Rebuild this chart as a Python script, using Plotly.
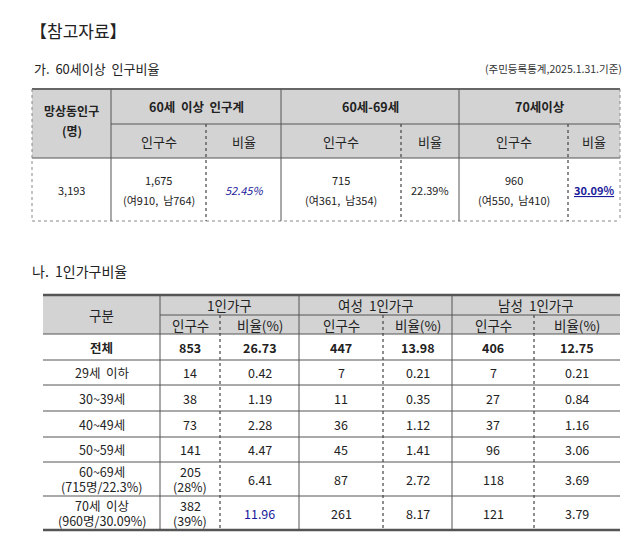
import plotly.graph_objects as go

FONT = "Noto Sans CJK KR"
# ---------- data ----------
t1_groups = ["60세  이상  인구계", "60세-69세", "70세이상"]
t1_sub = ["인구수", "비율", "인구수", "비율", "인구수", "비율"]
t1_total = "3,193"
t1_vals = ["1,675<br>(여910,  남764)", "52.45%", "715<br>(여361,  남354)", "22.39%",
           "960<br>(여550,  남410)", "30.09%"]

t2_groups = ["1인가구", "여성  1인가구", "남성  1인가구"]
t2_sub = ["인구수", "비율(%)", "인구수", "비율(%)", "인구수", "비율(%)"]
t2_cats = ["전체", "29세  이하", "30~39세", "40~49세", "50~59세",
           "60~69세<br>(715명/22.3%)", "70세  이상<br>(960명/30.09%)"]
t2_total1 = ["853", "14", "38", "73", "141", "205<br>(28%)", "382<br>(39%)"]
t2_ratio1 = ["26.73", "0.42", "1.19", "2.28", "4.47", "6.41", "11.96"]
t2_f_cnt = ["447", "7", "11", "36", "45", "87", "261"]
t2_f_rat = ["13.98", "0.21", "0.35", "1.12", "1.41", "2.72", "8.17"]
t2_m_cnt = ["406", "7", "27", "37", "96", "118", "121"]
t2_m_rat = ["12.75", "0.21", "0.84", "1.16", "3.06", "3.69", "3.79"]

# ---------- layout geometry ----------
X1 = [24, 103, 198, 273, 393, 451, 560, 612]
Y1 = [81, 116, 150, 213]
X2 = [35, 152, 212, 291, 375, 444, 526, 612]
Y2 = [287, 307, 326, 352, 377, 403, 429, 454, 488, 522]
GRAY = "#d3d3d3"

fig = go.Figure()
shapes, anns = [], []

def rect(x0, y0, x1, y1, fill):
    shapes.append(dict(type="rect", x0=x0, x1=x1, y0=y0, y1=y1, fillcolor=fill,
                       line=dict(width=0), layer="below"))

def line(x0, y0, x1, y1, w=1, color="#555", dash="solid"):
    shapes.append(dict(type="line", x0=x0, x1=x1, y0=y0, y1=y1,
                       line=dict(width=w, color=color, dash=dash)))

def text(x, y, s, size=12, bold=False, color="#222", anchor="center", italic=False,
         underline=False, gap=15):
    parts = s.split("<br>")
    n = len(parts)
    for k, p in enumerate(parts):
        if bold: p = "<b>" + p + "</b>"
        if italic: p = "<i>" + p + "</i>"
        if underline: p = "<u>" + p + "</u>"
        anns.append(dict(x=x, y=y + (k - (n - 1) / 2) * gap, text=p, showarrow=False,
                         xanchor=anchor, yanchor="middle",
                         font=dict(family=FONT, size=size, color=color)))

# titles
text(20, 22, "【참고자료】", size=17, anchor="left")
text(24, 60, "가.  60세이상  인구비율", size=13, anchor="left")
text(616, 60, "(주민등록통계,2025.1.31.기준)", size=10.5, anchor="right", color="#333")
text(22, 263, "나.  1인가구비율", size=14, anchor="left")

# ---------- table 1 ----------
rect(X1[0], Y1[0], X1[-1], Y1[2], GRAY)
line(X1[0], Y1[0], X1[-1], Y1[0], 2, "#666")
line(X1[1], Y1[1], X1[-1], Y1[1], 1, "#555")
line(X1[0], Y1[2], X1[-1], Y1[2], 1, "#555")
line(X1[0], Y1[3], X1[-1], Y1[3], 1, "#888", "dot")
line(X1[0], Y1[0], X1[0], Y1[3], 1, "#888", "dot")
line(X1[-1], Y1[0], X1[-1], Y1[3], 1, "#888", "dot")
for i, xv in enumerate(X1[1:-1], start=1):
    if i % 2 == 1:
        line(xv, Y1[0], xv, Y1[3], 1, "#555")
    else:
        line(xv, Y1[1], xv, Y1[3], 1.2, "#444", "dot")
text((X1[0] + X1[1]) / 2, 112, "망상동인구<br>(명)", bold=True, size=12, gap=20)
for g, lab in enumerate(t1_groups):
    text((X1[1 + 2 * g] + X1[3 + 2 * g]) / 2, (Y1[0] + Y1[1]) / 2, lab, bold=True, size=12.5)
for i, lab in enumerate(t1_sub):
    text((X1[1 + i] + X1[2 + i]) / 2, (Y1[1] + Y1[2]) / 2, lab, size=13)
mid = (Y1[2] + Y1[3]) / 2
text((X1[0] + X1[1]) / 2, mid, t1_total, size=11)
for i, v in enumerate(t1_vals):
    kw = {}
    if i == 1: kw = dict(italic=True, color="#1a1a9a")
    if i == 5: kw = dict(bold=True, underline=True, color="#1a1a9a")
    text((X1[1 + i] + X1[2 + i]) / 2, mid, v, size=11, gap=20, **kw)

# ---------- table 2 ----------
rect(X2[0], Y2[0], X2[-1], Y2[2], GRAY)
line(X2[0], Y2[0], X2[-1], Y2[0], 2.5, "#555")
line(X2[1], Y2[1], X2[-1], Y2[1], 1, "#555")
line(X2[0], Y2[2], X2[-1], Y2[2], 1, "#555")
for yv in Y2[3:-1]:
    line(X2[0], yv, X2[-1], yv, 1, "#555")
line(X2[0], Y2[-1], X2[-1], Y2[-1], 2.5, "#555")
for i, xv in enumerate(X2[1:-1], start=1):
    if i % 2 == 1:
        line(xv, Y2[0], xv, Y2[-1], 1, "#555")
    else:
        line(xv, Y2[1], xv, Y2[-1], 1.2, "#444", "dot")
text((X2[0] + X2[1]) / 2, (Y2[0] + Y2[2]) / 2, "구분", size=13.5)
for g, lab in enumerate(t2_groups):
    text((X2[1 + 2 * g] + X2[3 + 2 * g]) / 2, (Y2[0] + Y2[1]) / 2, lab, size=13.5)
for i, lab in enumerate(t2_sub):
    text((X2[1 + i] + X2[2 + i]) / 2, (Y2[1] + Y2[2]) / 2, lab, size=13.5)
cols = [t2_total1, t2_ratio1, t2_f_cnt, t2_f_rat, t2_m_cnt, t2_m_rat]
for r, cat in enumerate(t2_cats):
    ym = (Y2[2 + r] + Y2[3 + r]) / 2
    bold = r == 0
    text((X2[0] + X2[1]) / 2, ym, cat, size=12.5, bold=bold)
    for c, col in enumerate(cols):
        color = "#1a1a9a" if (r == 6 and c == 1) else "#222"
        text((X2[1 + c] + X2[2 + c]) / 2, ym, col[r], size=12.5, bold=bold, color=color)

fig.update_layout(
    width=639, height=554, margin=dict(l=0, r=0, t=0, b=0),
    paper_bgcolor="white", plot_bgcolor="white",
    xaxis=dict(range=[0, 639], visible=False, fixedrange=True),
    yaxis=dict(range=[554, 0], visible=False, fixedrange=True),
    shapes=shapes, annotations=anns, showlegend=False,
)
fig.write_html("out.html")
